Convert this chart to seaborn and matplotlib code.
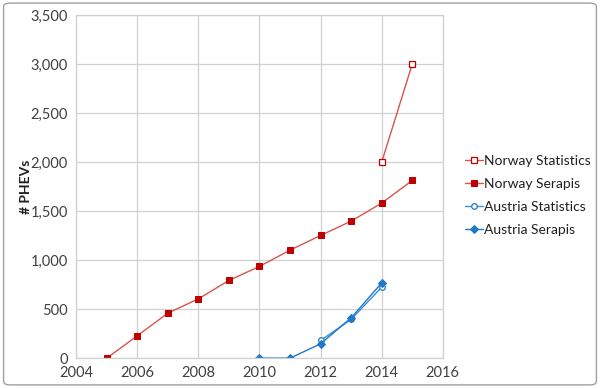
import matplotlib
matplotlib.use("Agg")
import matplotlib.pyplot as plt
import seaborn as sns
from matplotlib.patches import FancyBboxPatch

# values
norway_stat_years = [2014, 2015]
norway_stat_values = [2000, 3000]

norway_serapis_years = [2005, 2006, 2007, 2008, 2009, 2010, 2011, 2012, 2013, 2014, 2015]
norway_serapis_values = [0, 228, 459, 605, 793, 936, 1102, 1252, 1398, 1582, 1813]

austria_stat_years = [2012, 2013, 2014]
austria_stat_values = [180, 395, 724]

austria_serapis_years = [2010, 2011, 2012, 2013, 2014]
austria_serapis_values = [0, 0, 146, 411, 768]

sns.set_theme(style="white")
plt.rcParams["font.family"] = ["Lato", "DejaVu Sans"]

fig = plt.figure(figsize=(6, 3.88), dpi=100)
ax = fig.add_axes([0.127, 0.077, 0.611, 0.884])

red_line = "#D9534F"
red_mark = "#C00000"
blue = "#1F78C8"

sns.lineplot(x=norway_stat_years, y=norway_stat_values, ax=ax, color=red_line,
             linewidth=1.0, marker="s", markersize=4, markerfacecolor="white",
             markeredgecolor=red_mark, markeredgewidth=0.9, label="Norway Statistics")
sns.lineplot(x=norway_serapis_years, y=norway_serapis_values, ax=ax, color=red_line,
             linewidth=1.0, marker="s", markersize=4.5, markerfacecolor=red_mark,
             markeredgecolor=red_mark, label="Norway Serapis")
sns.lineplot(x=austria_stat_years, y=austria_stat_values, ax=ax, color="#3C8DD0",
             linewidth=1.0, marker="o", markersize=4, markerfacecolor="white",
             markeredgecolor=blue, markeredgewidth=0.9, label="Austria Statistics")
sns.lineplot(x=austria_serapis_years, y=austria_serapis_values, ax=ax, color=blue,
             linewidth=1.0, marker="D", markersize=3.8, markerfacecolor=blue,
             markeredgecolor=blue, label="Austria Serapis")

ax.set_xlim(2004, 2016)
ax.set_ylim(0, 3500)
ax.set_xticks(range(2004, 2017, 2))
ax.set_yticks(range(0, 3501, 500))
ax.set_yticklabels([f"{v:,}" for v in range(0, 3501, 500)])
ax.tick_params(axis="both", labelsize=10.5, colors="#404040", length=0, pad=6)

ax.grid(True, color="#D0D0D0", linewidth=0.9)
for side in ["top", "right", "bottom", "left"]:
    ax.spines[side].set_color("#D0D0D0")
    ax.spines[side].set_linewidth(0.9)

ax.set_xlabel("")
ax.set_ylabel("# PHEVs", fontsize=10, fontweight="bold", color="#202020")
ax.yaxis.set_label_coords(-0.12, 0.5)

leg = ax.legend(loc="center left", bbox_to_anchor=(1.045, 0.475), frameon=False,
                fontsize=10, handlelength=1.3, handletextpad=0.1, labelspacing=0.8,
                borderaxespad=0)
for t in leg.get_texts():
    t.set_color("#202020")

# grey frame round the whole chart
frame = FancyBboxPatch((0.006, 0.008), 0.988, 0.984, boxstyle="round,pad=0,rounding_size=0.01",
                       transform=fig.transFigure, facecolor="none", edgecolor="#A0A0A0",
                       linewidth=1.0)
fig.patches.append(frame)

fig.savefig("out.png", dpi=100)
